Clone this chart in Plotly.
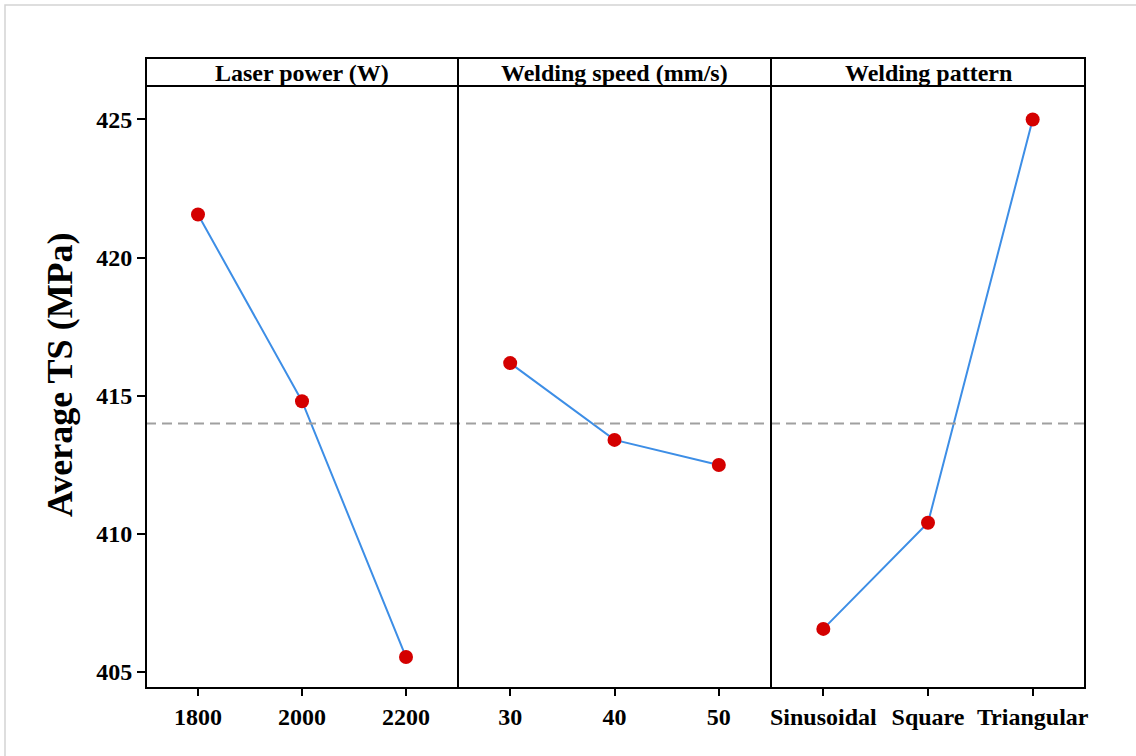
import plotly.graph_objects as go

# ---- data ----
panel_titles = ["Laser power (W)", "Welding speed (mm/s)", "Welding pattern"]
laser_power = ["1800", "2000", "2200"]
laser_ts = [421.56, 414.80, 405.54]
weld_speed = ["30", "40", "50"]
speed_ts = [416.18, 413.40, 412.49]
weld_pattern = ["Sinusoidal", "Square", "Triangular"]
pattern_ts = [406.56, 410.40, 425.00]
y_ticks = [405, 410, 415, 420, 425]

W, H = 1136, 756
L, R, T, B = 146, 1085, 86, 688
pw, ph = R - L, B - T
divs = [146, 458, 771, 1085]
doms = [[(divs[i] - L) / pw, (divs[i + 1] - L) / pw] for i in range(3)]
SERIF = "Liberation Serif, Times New Roman, serif"

def px_x(p):
    return (p - L) / pw

def px_y(p):
    return (B - p) / ph

fig = go.Figure()
series = [(laser_power, laser_ts), (weld_speed, speed_ts), (weld_pattern, pattern_ts)]
axnames = ["x", "x2", "x3"]
for (cats, vals), ax in zip(series, axnames):
    fig.add_trace(go.Scatter(
        x=list(range(len(cats))), y=vals, xaxis=ax, yaxis="y",
        mode="lines+markers",
        line=dict(color="#3d8ee6", width=2),
        marker=dict(color="#d40000", size=14),
        showlegend=False, cliponaxis=False,
    ))

all_vals = laser_ts + speed_ts + pattern_ts
grand_mean = sum(all_vals) / len(all_vals)

tickfont = dict(family=SERIF, size=24, color="black", weight="bold")
layout = dict(
    width=W, height=H,
    margin=dict(l=L, r=W - R, t=T, b=H - B),
    paper_bgcolor="white", plot_bgcolor="white",
    yaxis=dict(
        range=[404.42, 426.21], tickvals=y_ticks, ticks="outside", ticklen=8,
        tickwidth=2, tickcolor="black", showgrid=False, zeroline=False,
        showline=False, tickfont=tickfont, anchor="x",
    ),
)
for i, (cats, vals) in enumerate(series):
    key = "xaxis" if i == 0 else f"xaxis{i+1}"
    layout[key] = dict(
        domain=doms[i], range=[-0.5, 2.5], tickvals=list(range(len(cats))),
        ticktext=cats, ticks="outside", ticklen=7, tickwidth=2,
        tickcolor="black", showgrid=False, zeroline=False, showline=False,
        tickfont=tickfont, anchor="y",
    )
fig.update_layout(**layout)

shapes = []
# outer light border
shapes.append(dict(type="rect", xref="paper", yref="paper",
                   x0=px_x(5), x1=px_x(1145), y0=px_y(765), y1=px_y(5),
                   line=dict(color="#d3d3d3", width=1.5), layer="below"))
# mean dashed line
shapes.append(dict(type="line", xref="paper", yref="y", x0=0, x1=1,
                   y0=grand_mean, y1=grand_mean,
                   line=dict(color="#a0a0a0", width=2, dash="10px,6px")))
hdr_top = 58
for i in range(3):
    x0, x1 = px_x(divs[i]), px_x(divs[i + 1])
    shapes.append(dict(type="rect", xref="paper", yref="paper", x0=x0, x1=x1,
                       y0=0, y1=1, line=dict(color="black", width=2)))
    shapes.append(dict(type="rect", xref="paper", yref="paper", x0=x0, x1=x1,
                       y0=1, y1=px_y(hdr_top), line=dict(color="black", width=2)))
fig.update_layout(shapes=shapes)

ann = []
for i, t in enumerate(panel_titles):
    ann.append(dict(text=t, xref="paper", yref="paper",
                    x=(px_x(divs[i]) + px_x(divs[i + 1])) / 2,
                    y=px_y((hdr_top + T) / 2 + 1), xanchor="center", yanchor="middle",
                    showarrow=False,
                    font=dict(family=SERIF, size=24, color="black", weight="bold")))
ann.append(dict(text="Average TS (MPa)", xref="paper", yref="paper",
                x=px_x(60), y=px_y(375), textangle=-90, xanchor="center", yanchor="middle",
                showarrow=False,
                font=dict(family=SERIF, size=36, color="black", weight="bold")))
fig.update_layout(annotations=ann)

fig.write_html("out.html", config={"displayModeBar": False},
               post_script="document.body.style.margin='0';document.body.style.overflow='hidden';")
